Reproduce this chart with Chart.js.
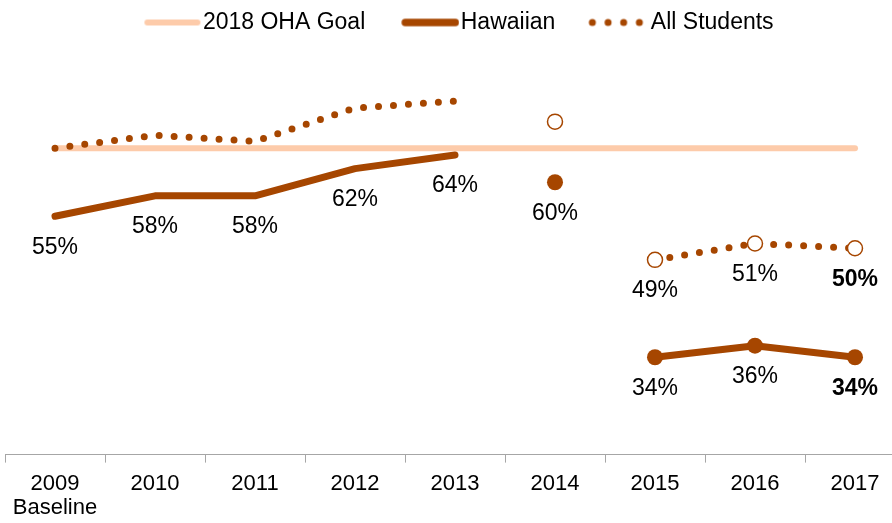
<!DOCTYPE html>
<html>
<head>
<meta charset="utf-8">
<script src="https://cdn.jsdelivr.net/npm/chart.js@4.4.0/dist/chart.umd.min.js"></script>
<style>
  html, body { margin: 0; padding: 0; background: #fff; }
  #wrap { width: 892px; height: 523px; position: relative; }
</style>
</head>
<body>
<div id="wrap"><canvas id="chart"></canvas></div>
<script>
// chart data
const years = ['2009', '2010', '2011', '2012', '2013', '2014', '2015', '2016', '2017'];
const yearNotes = ['Baseline', '', '', '', '', '', '', '', ''];
const goal = [65, 65, 65, 65, 65, 65, 65, 65, 65];
const hawaiian = [55, 58, 58, 62, 64, 60, 34.3, 36, 34.3];
const allStudents = [65, 66.9, 66, 70.9, 71.9, 68.9, 48.6, 51, 50.3];
const hawaiianLabelIdx = [0, 1, 2, 3, 4, 5, 6, 7, 8];
const allStudentsLabelIdx = [6, 7, 8];
// the lines are broken after 2013 and after 2014
const breakAfter = [4, 5];

const BROWN = '#A64600';
const PEACH = '#FDCBAA';
const FONT = '"Liberation Sans", Arial, sans-serif';

Chart.defaults.font.family = FONT;
Chart.defaults.font.size = 22;
Chart.defaults.color = '#000';

const xLabels = years.map((y, i) => yearNotes[i] ? [y, yearNotes[i]] : y);
const xTicks = [];
years.forEach((y, i) => { xTicks.push(i - 0.5, i); });

const toPoints = arr => arr.map((v, i) => ({ x: i, y: v }));
const gapColor = fallback => ctx => breakAfter.includes(ctx.p0DataIndex) ? 'rgba(0,0,0,0)' : fallback;

// legend samples (canvas images used as point styles)
function sample(kind) {
  const c = document.createElement('canvas');
  c.width = 88; c.height = 12;
  const g = c.getContext('2d');
  if (kind === 'dots') {
    g.fillStyle = BROWN;
    [31, 46.7, 62.3, 78].forEach(x => {
      g.beginPath(); g.arc(x, 6, 3.5, 0, Math.PI * 2); g.fill();
    });
  } else {
    g.strokeStyle = kind === 'goal' ? PEACH : BROWN;
    g.lineWidth = kind === 'goal' ? 6 : 7.5;
    g.lineCap = 'round';
    g.beginPath(); g.moveTo(34, 6); g.lineTo(84, 6); g.stroke();
  }
  return c;
}

const pointLabels = {
  id: 'pointLabels',
  afterDatasetsDraw(chart) {
    const ctx = chart.ctx;
    chart.data.datasets.forEach((ds, di) => {
      if (!ds.labelIdx) return;
      const meta = chart.getDatasetMeta(di);
      ds.labelIdx.forEach(i => {
        const pt = meta.data[i];
        ctx.save();
        ctx.font = (i === years.length - 1 ? 'bold ' : '') + '23px ' + FONT;
        ctx.fillStyle = '#000';
        ctx.textAlign = 'center';
        ctx.textBaseline = 'middle';
        ctx.fillText(Math.round(ds.data[i].y) + '%', pt.x, pt.y + 31);
        ctx.restore();
      });
    });
  }
};

new Chart(document.getElementById('chart'), {
  type: 'line',
  data: {
    datasets: [
      {
        label: '2018 OHA Goal',
        data: toPoints(goal),
        borderColor: PEACH,
        borderWidth: 6,
        borderCapStyle: 'round',
        pointRadius: 0,
        order: 3
      },
      {
        label: 'Hawaiian',
        data: toPoints(hawaiian),
        labelIdx: hawaiianLabelIdx,
        borderColor: BROWN,
        borderWidth: 7,
        borderCapStyle: 'round',
        borderJoinStyle: 'round',
        segment: { borderColor: gapColor(BROWN) },
        pointRadius: [0, 0, 0, 0, 0, 8, 8, 8, 8],
        pointBackgroundColor: BROWN,
        pointBorderWidth: 0,
        order: 1
      },
      {
        label: 'All Students',
        data: toPoints(allStudents),
        labelIdx: allStudentsLabelIdx,
        borderColor: BROWN,
        borderWidth: 7,
        borderDash: [0, 15],
        borderCapStyle: 'round',
        segment: { borderColor: gapColor(BROWN) },
        pointRadius: [0, 0, 0, 0, 0, 7.5, 7.5, 7.5, 7.5],
        pointBackgroundColor: '#fff',
        pointBorderColor: BROWN,
        pointBorderWidth: 1.5,
        order: 2
      }
    ]
  },
  options: {
    responsive: true,
    maintainAspectRatio: false,
    animation: false,
    events: [],
    layout: { autoPadding: false, padding: { left: 5, right: 0, top: -5, bottom: -6 } },
    plugins: {
      tooltip: { enabled: false },
      legend: {
        position: 'top',
        labels: {
          usePointStyle: true,
          pointStyleWidth: 68,
          padding: 16,
          color: '#000',
          font: { size: 23 },
          generateLabels: () => [
            { text: '2018 OHA Goal', pointStyle: sample('goal'), datasetIndex: 0, lineWidth: 0 },
            { text: 'Hawaiian', pointStyle: sample('line'), datasetIndex: 1, lineWidth: 0 },
            { text: 'All Students', pointStyle: sample('dots'), datasetIndex: 2, lineWidth: 0 }
          ]
        }
      }
    },
    scales: {
      x: {
        type: 'linear',
        min: -0.5,
        max: 8.37,
        afterBuildTicks: scale => { scale.ticks = xTicks.filter(v => v <= 8.37).map(v => ({ value: v })); },
        afterFit: scale => { scale.paddingLeft = 0; scale.paddingRight = 0; },
        ticks: {
          autoSkip: false,
          maxRotation: 0,
          padding: 9,
          color: '#000',
          font: { size: 22, lineHeight: 1.1 },
          callback: v => Number.isInteger(v) ? xLabels[v] : ''
        },
        grid: {
          drawOnChartArea: false,
          tickLength: 8,
          lineWidth: 1,
          color: ctx => ctx.tick && Number.isInteger(ctx.tick.value) ? 'rgba(0,0,0,0)' : '#A6A6A6'
        },
        border: { display: true, color: '#A6A6A6', width: 1 }
      },
      y: {
        display: false,
        min: 20,
        max: 80.3
      }
    }
  },
  plugins: [pointLabels]
});
</script>
</body>
</html>
